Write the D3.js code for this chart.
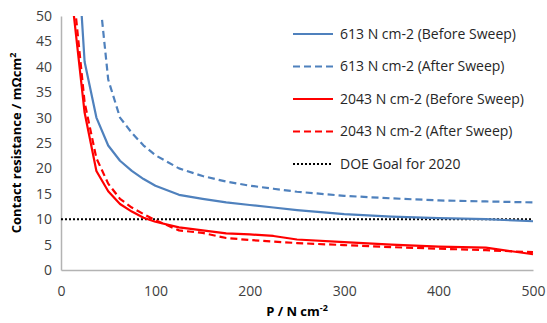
<!DOCTYPE html>
<html>
<head>
<meta charset="utf-8">
<script src="https://cdn.jsdelivr.net/npm/d3@7"></script>
<style>
  body { margin: 0; background: #fff; }
  svg { font-family: "Open Sans", sans-serif; }
</style>
</head>
<body>
<div id="chart"></div>
<script>
// data
var pressure = [12.5, 25, 37.5, 50, 62.5, 75, 87.5, 100, 125, 150, 175, 200, 225, 250, 300, 350, 400, 450, 500];
var blueBefore = [78, 41, 30, 24.5, 21.5, 19.5, 17.9, 16.6, 14.8, 14, 13.3, 12.8, 12.3, 11.8, 11, 10.5, 10.2, 10, 9.6];
var blueAfter = [null, null, 60, 37.5, 30, 27, 24.5, 22.6, 20, 18.5, 17.4, 16.6, 16, 15.4, 14.6, 14.1, 13.7, 13.5, 13.3];
var redBefore = [52, 31, 19.5, 15.5, 13, 11.5, 10.3, 9.5, 8.4, 7.8, 7.2, 7, 6.7, 6, 5.5, 5, 4.6, 4.4, 3.1];
var redAfter = [56, 33, 22, 17, 14, 12.3, 11, 9.8, 7.8, 7.3, 6.3, 5.9, 5.6, 5.3, 4.9, 4.5, 4.2, 3.9, 3.5];
var doeGoal = 10;

var seriesNames = ["613 N cm-2 (Before Sweep)", "613 N cm-2 (After Sweep)",
                   "2043 N cm-2 (Before Sweep)", "2043 N cm-2 (After Sweep)", "DOE Goal for 2020"];
var xTicks = [0, 100, 200, 300, 400, 500];
var yTicks = [0, 5, 10, 15, 20, 25, 30, 35, 40, 45, 50];

var W = 547, H = 323;
var margin = {top: 16, right: 14, bottom: 53, left: 61},
    width = W - margin.left - margin.right,
    height = H - margin.top - margin.bottom;

var svg = d3.select("#chart").append("svg")
    .attr("width", W).attr("height", H);

var g = svg.append("g")
    .attr("transform", "translate(" + margin.left + "," + margin.top + ")");

var x = d3.scaleLinear().domain([0, 500]).range([0, width]);
var y = d3.scaleLinear().domain([0, 50]).range([height, 0]);

svg.append("defs").append("clipPath").attr("id", "plotclip")
  .append("rect").attr("x", 0).attr("y", 0).attr("width", width + 2).attr("height", height);

// axes
var xAxis = g.append("g")
    .attr("transform", "translate(0," + height + ")")
    .call(d3.axisBottom(x).tickValues(xTicks).tickSize(0).tickPadding(16));
var yAxis = g.append("g")
    .call(d3.axisLeft(y).tickValues(yTicks).tickSize(0).tickPadding(9));

[xAxis, yAxis].forEach(function(a) {
  a.select(".domain").attr("stroke", "#b3b3b3").attr("stroke-width", 1.5);
  a.selectAll("text").attr("fill", "#404040").attr("font-size", 14)
    .attr("font-family", "Open Sans, sans-serif");
});

// series
var series = [
  {vals: blueBefore, color: "#4f81bd", dash: null},
  {vals: blueAfter, color: "#4f81bd", dash: "7,4"},
  {vals: redBefore, color: "#ff0000", dash: null},
  {vals: redAfter, color: "#ff0000", dash: "7,4"}
];

var line = d3.line()
    .defined(function(d) { return d[1] != null; })
    .x(function(d) { return x(d[0]); })
    .y(function(d) { return y(d[1]); });

var plot = g.append("g").attr("clip-path", "url(#plotclip)");

// DOE goal
plot.append("line")
    .attr("x1", x(0)).attr("x2", x(500))
    .attr("y1", y(doeGoal)).attr("y2", y(doeGoal))
    .attr("stroke", "#000").attr("stroke-width", 2)
    .attr("stroke-dasharray", "2,2");

series.forEach(function(s) {
  plot.append("path")
    .datum(pressure.map(function(p, i) { return [p, s.vals[i]]; }))
    .attr("fill", "none")
    .attr("stroke", s.color)
    .attr("stroke-width", 2.2)
    .attr("stroke-dasharray", s.dash)
    .attr("stroke-linejoin", "round")
    .attr("d", line);
});

// legend
var legendStyles = series.concat([{color: "#000", dash: "2,2"}]);
var legend = svg.append("g").attr("transform", "translate(293,34)");
legendStyles.forEach(function(s, i) {
  var row = legend.append("g").attr("transform", "translate(0," + (i * 32.5) + ")");
  row.append("line")
    .attr("x1", 0).attr("x2", 40).attr("y1", 0).attr("y2", 0)
    .attr("stroke", s.color).attr("stroke-width", 2.2)
    .attr("stroke-dasharray", s.dash);
  row.append("text")
    .attr("x", 47).attr("y", 0).attr("dy", "0.35em")
    .attr("font-size", 14).attr("fill", "#262626")
    .text(seriesNames[i]);
});

// axis titles
var xt = svg.append("text")
    .attr("x", margin.left + width / 2).attr("y", 316)
    .attr("text-anchor", "middle")
    .attr("font-size", 13).attr("font-weight", "bold").attr("fill", "#000");
xt.append("tspan").text("P / N cm");
xt.append("tspan").attr("font-size", 9).attr("dy", -5).text("-2");

var yt = svg.append("text")
    .attr("transform", "translate(21," + (margin.top + height / 2) + ") rotate(-90)")
    .attr("text-anchor", "middle")
    .attr("font-size", 13).attr("font-weight", "bold").attr("fill", "#000");
yt.append("tspan").text("Contact resistance / m\u03A9cm");
yt.append("tspan").attr("font-size", 9).attr("dy", -5).text("2");
</script>
</body>
</html>
